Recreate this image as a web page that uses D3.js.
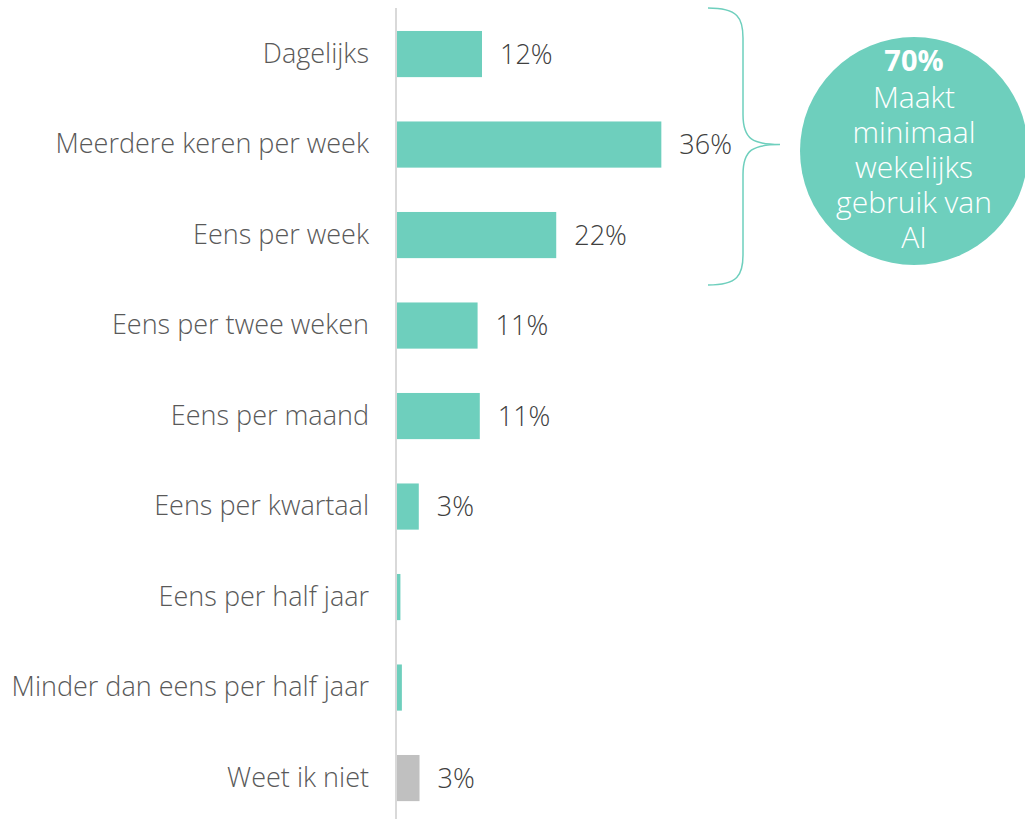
<!DOCTYPE html>
<html>
<head>
<meta charset="utf-8">
<script src="https://cdn.jsdelivr.net/npm/d3@7"></script>
<style>
  body { margin: 0; background: #fff; }
  svg { display: block; font-family: "Open Sans", sans-serif; font-weight: 300; }
</style>
</head>
<body>
<svg id="chart"></svg>
<script>
const categories = [
    "Dagelijks",
    "Meerdere keren per week",
    "Eens per week",
    "Eens per twee weken",
    "Eens per maand",
    "Eens per kwartaal",
    "Eens per half jaar",
    "Minder dan eens per half jaar",
    "Weet ik niet"
];
const values = [11.7, 36.1, 21.8, 11.1, 11.4, 3.1, 0.6, 0.8, 3.2];
const valueLabels = ["12%", "36%", "22%", "11%", "11%", "3%", "", "", "3%"];
const calloutLines = ["70%", "Maakt", "minimaal", "wekelijks", "gebruik van", "AI"];

const width = 1025, height = 819;
const teal = "#6ecfbd", grey = "#c0c0c0";
const font = "'Open Sans', sans-serif";

const svg = d3.select("#chart")
    .attr("width", width)
    .attr("height", height);

const x = d3.scaleLinear()
    .domain([0, 100])
    .range([396, 1131]);

const y = d3.scaleBand()
    .domain(categories)
    .range([8.8, 823.3])
    .paddingInner(0.49)
    .paddingOuter(0.245);

// bars
svg.selectAll("rect.bar")
    .data(categories)
    .enter().append("rect")
    .attr("class", "bar")
    .attr("x", x(0))
    .attr("y", d => y(d))
    .attr("width", (d, i) => x(values[i]) - x(0))
    .attr("height", y.bandwidth())
    .attr("fill", (d, i) => i === categories.length - 1 ? grey : teal);

// category axis (line only, labels right-aligned)
const yAxis = svg.append("g")
    .attr("transform", `translate(${x(0)},0)`)
    .call(d3.axisLeft(y).tickSize(0).tickPadding(27));
yAxis.select(".domain").remove();
yAxis.selectAll("text")
    .attr("font-family", font)
    .attr("font-weight", 300)
    .attr("font-size", 27)
    .attr("fill", "#595959");

svg.append("line")
    .attr("x1", x(0)).attr("x2", x(0))
    .attr("y1", 8).attr("y2", height)
    .attr("stroke", "#d9d9d9")
    .attr("stroke-width", 2);

// value labels
svg.selectAll("text.val")
    .data(categories)
    .enter().append("text")
    .attr("class", "val")
    .attr("x", (d, i) => x(values[i]) + 18)
    .attr("y", d => y(d) + y.bandwidth() / 2)
    .attr("dy", "0.35em")
    .attr("font-size", 27)
    .attr("fill", "#404040")
    .text((d, i) => valueLabels[i]);

// brace over first three bars
const bTop = 8, bBot = 285, bMid = y(categories[1]) + y.bandwidth() / 2;
const bx0 = 708, bx1 = 743, bx2 = 780;
const brace = d3.path();
brace.moveTo(bx0, bTop);
brace.bezierCurveTo(bx1 - 5, bTop, bx1, bTop + 10, bx1, bTop + 30);
brace.lineTo(bx1, bMid - 30);
brace.bezierCurveTo(bx1, bMid - 5, bx1 + 10, bMid, bx2, bMid);
brace.bezierCurveTo(bx1 + 10, bMid, bx1, bMid + 5, bx1, bMid + 30);
brace.lineTo(bx1, bBot - 30);
brace.bezierCurveTo(bx1, bBot - 10, bx1 - 5, bBot, bx0, bBot);
svg.append("path")
    .attr("d", brace.toString())
    .attr("fill", "none")
    .attr("stroke", teal)
    .attr("stroke-width", 1.5);

// callout circle
const cx = 914, cy = 151, r = 114;
svg.append("circle")
    .attr("cx", cx).attr("cy", cy).attr("r", r)
    .attr("fill", teal);

svg.selectAll("text.callout")
    .data(calloutLines)
    .enter().append("text")
    .attr("class", "callout")
    .attr("x", cx)
    .attr("y", (d, i) => i === 0 ? 61 : 62 + i * 35)
    .attr("dy", "0.35em")
    .attr("text-anchor", "middle")
    .attr("font-size", (d, i) => i === 0 ? 29 : 30)
    .attr("font-weight", (d, i) => i === 0 ? 700 : 300)
    .attr("fill", "#fff")
    .text(d => d);
</script>
</body>
</html>
